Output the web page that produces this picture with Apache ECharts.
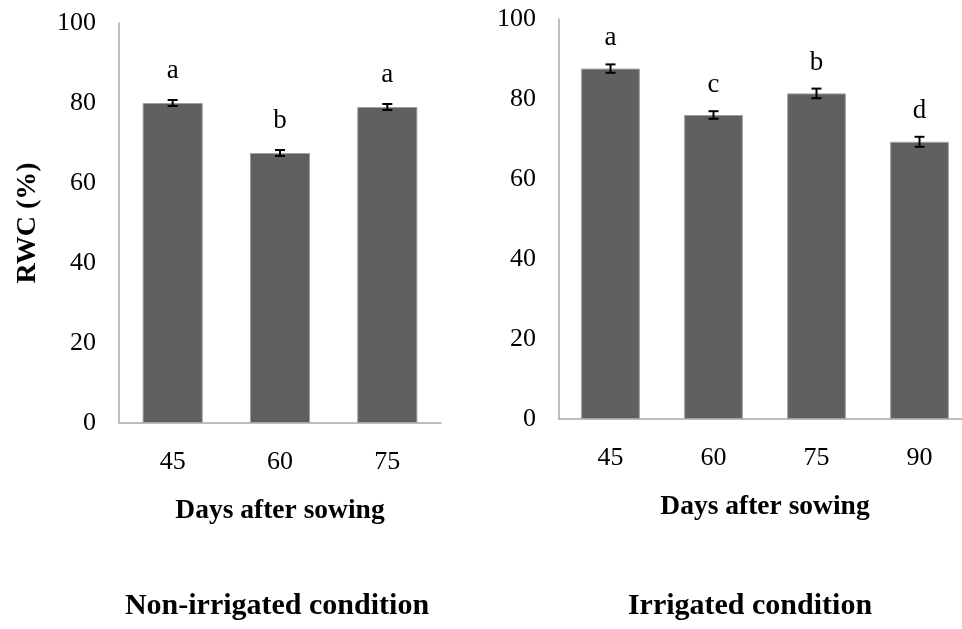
<!DOCTYPE html>
<html>
<head>
<meta charset="utf-8">
<title>RWC</title>
<script src="https://cdn.jsdelivr.net/npm/echarts@6/dist/echarts.min.js"></script>
<style>
  html, body { margin: 0; padding: 0; background: #fff; }
  #main { width: 962px; height: 629px; }
</style>
</head>
<body>
<div id="main"></div>
<script>
// non-irrigated
var days1 = ['45', '60', '75'];
var rwc1 = [80.0, 67.5, 79.0];
var err1 = [0.75, 0.75, 0.75];
var letters1 = ['a', 'b', 'a'];

// irrigated
var days2 = ['45', '60', '75', '90'];
var rwc2 = [87.6, 76.0, 81.4, 69.3];
var err2 = [1.05, 0.95, 1.2, 1.25];
var letters2 = ['a', 'c', 'b', 'd'];

var yTicks = [0, 20, 40, 60, 80, 100];

var serif = "'Liberation Serif', 'Times New Roman', serif";
var axisGrey = '#a8a8a8';

var echart = echarts.init(document.getElementById('main'));

function errData(vals, errs) {
    var out = [];
    for (var i = 0; i < vals.length; i++) {
        out.push([i, vals[i] - errs[i], vals[i] + errs[i]]);
    }
    return out;
}

// whisker with caps
function renderErr(params, api) {
    var lo = api.coord([api.value(0), api.value(1)]);
    var hi = api.coord([api.value(0), api.value(2)]);
    var half = 5;
    var st = { stroke: '#000', lineWidth: 2 };
    return {
        type: 'group',
        children: [
            { type: 'line', shape: { x1: lo[0], y1: lo[1], x2: hi[0], y2: hi[1] }, style: st },
            { type: 'line', shape: { x1: lo[0] - half, y1: lo[1], x2: lo[0] + half, y2: lo[1] }, style: st },
            { type: 'line', shape: { x1: hi[0] - half, y1: hi[1], x2: hi[0] + half, y2: hi[1] }, style: st }
        ]
    };
}

function xAxisOf(idx, cats) {
    return {
        type: 'category',
        gridIndex: idx,
        data: cats,
        axisTick: { show: false },
        axisLine: { lineStyle: { color: axisGrey, width: 1.5 } },
        axisLabel: { color: '#000', fontFamily: serif, fontSize: 26, margin: 26 },
        name: 'Days after sowing',
        nameLocation: 'middle',
        nameGap: 74,
        nameTextStyle: { color: '#000', fontFamily: serif, fontSize: 27.5, fontWeight: 'bold' }
    };
}

function yAxisOf(idx, title) {
    return {
        type: 'value',
        gridIndex: idx,
        min: yTicks[0],
        max: yTicks[yTicks.length - 1],
        interval: 20,
        splitLine: { show: false },
        axisTick: { show: false },
        axisLine: { show: true, lineStyle: { color: axisGrey, width: 1.5 } },
        axisLabel: { color: '#000', fontFamily: serif, fontSize: 26, margin: 23 },
        name: title,
        nameLocation: 'middle',
        nameRotate: 90,
        nameGap: 77,
        nameTextStyle: { color: '#000', fontFamily: serif, fontSize: 28, fontWeight: 'bold' }
    };
}

function barSeries(idx, vals, letters, width, dist) {
    return {
        type: 'bar',
        xAxisIndex: idx,
        yAxisIndex: idx,
        data: vals,
        barWidth: width,
        silent: true,
        itemStyle: { color: '#606060', borderColor: '#a0a0a0', borderWidth: 1 },
        label: {
            show: true,
            position: 'top',
            distance: dist,
            color: '#000',
            fontFamily: serif,
            fontSize: 27,
            formatter: function (p) { return letters[p.dataIndex]; }
        }
    };
}

option = {
    animation: false,
    grid: [
        { left: 119, top: 23, width: 322, height: 400, outerBoundsMode: 'none' },
        // the right panel runs past the picture edge in the original
        { left: 559, top: 19, width: 412, height: 400, outerBoundsMode: 'none' }
    ],
    xAxis: [xAxisOf(0, days1), xAxisOf(1, days2)],
    yAxis: [yAxisOf(0, 'RWC (%)'), yAxisOf(1, '')],
    series: [
        barSeries(0, rwc1, letters1, '56%', 19),
        barSeries(1, rwc2, letters2, '57%', 17),
        { type: 'custom', xAxisIndex: 0, yAxisIndex: 0, data: errData(rwc1, err1), renderItem: renderErr, z: 5, silent: true },
        { type: 'custom', xAxisIndex: 1, yAxisIndex: 1, data: errData(rwc2, err2), renderItem: renderErr, z: 5, silent: true }
    ],
    graphic: [
        { type: 'text', x: 277, y: 606, style: { text: 'Non-irrigated condition', fill: '#000', font: 'bold 30px ' + serif, textAlign: 'center', textVerticalAlign: 'middle' } },
        { type: 'text', x: 750, y: 606, style: { text: 'Irrigated condition', fill: '#000', font: 'bold 30px ' + serif, textAlign: 'center', textVerticalAlign: 'middle' } }
    ]
};

echart.setOption(option);
</script>
</body>
</html>
